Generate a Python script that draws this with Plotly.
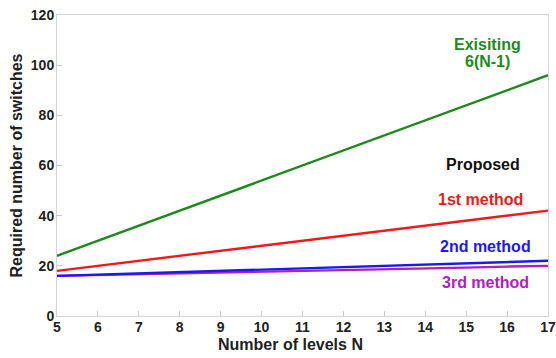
import plotly.graph_objects as go

levels_N = [5, 6, 7, 8, 9, 10, 11, 12, 13, 14, 15, 16, 17]
existing = [24, 30, 36, 42, 48, 54, 60, 66, 72, 78, 84, 90, 96]
method_1st = [18, 20, 22, 24, 26, 28, 30, 32, 34, 36, 38, 40, 42]
method_2nd = [16, 16.5, 17, 17.5, 18, 18.5, 19, 19.5, 20, 20.5, 21, 21.5, 22]
method_3rd = [16, 16.3, 16.7, 17, 17.3, 17.7, 18, 18.3, 18.7, 19, 19.3, 19.7, 20]
x_ticks = list(range(5, 18))
y_ticks = [0, 20, 40, 60, 80, 100, 120]

GREEN = "#1e8a1e"
RED = "#f01818"
BLUE = "#1a1aee"
PURPLE = "#b21cc0"
FONT = "Liberation Sans, Arial, sans-serif"

fig = go.Figure()
for y, c in [(existing, GREEN), (method_1st, RED), (method_3rd, PURPLE), (method_2nd, BLUE)]:
    fig.add_trace(go.Scatter(x=levels_N, y=y, mode="lines",
                             line=dict(color=c, width=2.4), showlegend=False))

annots = [
    ("<b>Exisiting</b>", 15.53, 108.4, GREEN),
    ("<b>6(N-1)</b>", 15.53, 101.6, GREEN),
    ("<b>Proposed</b>", 15.41, 60.4, "#111111"),
    ("<b>1st method</b>", 15.36, 46.4, RED),
    ("<b>2nd method</b>", 15.48, 27.6, BLUE),
    ("<b>3rd method</b>", 15.48, 13.2, PURPLE),
]
for t, x, y, c in annots:
    fig.add_annotation(text=t, x=x, y=y, xref="x", yref="y", showarrow=False,
                       font=dict(family=FONT, size=16, color=c))

fig.add_annotation(text="<b>Number of levels N</b>", x=0.476, y=-0.096,
                   xref="paper", yref="paper", showarrow=False,
                   yanchor="middle", xanchor="center",
                   font=dict(family=FONT, size=16, color="#222222"))

axis_common = dict(showgrid=False, zeroline=False, showline=True, mirror=True,
                   linecolor="#d4d4d4", linewidth=1, ticks="inside", ticklen=5,
                   tickcolor="#c8c8c8", automargin=False,
                   tickfont=dict(family=FONT, size=14, color="#222222", weight="bold"))

fig.update_xaxes(range=[5, 17], tickvals=x_ticks, ticktext=[str(v) for v in x_ticks],
                 ticklabelstandoff=-2, ticklabeloverflow="allow", **axis_common)
fig.update_yaxes(range=[0, 120], tickvals=y_ticks, ticktext=[str(v) for v in y_ticks],
                 ticklabelstandoff=-1,
                 title=dict(text="<b>Required number of switches</b>", standoff=4,
                            font=dict(family=FONT, size=16, color="#222222")),
                 **axis_common)

fig.update_layout(width=556, height=358, margin=dict(l=57, r=8, t=15, b=42),
                  paper_bgcolor="white", plot_bgcolor="white")

fig.write_html("out.html", config={"displayModeBar": False},
               post_script="document.body.style.margin='0px';document.body.style.overflow='hidden';")
